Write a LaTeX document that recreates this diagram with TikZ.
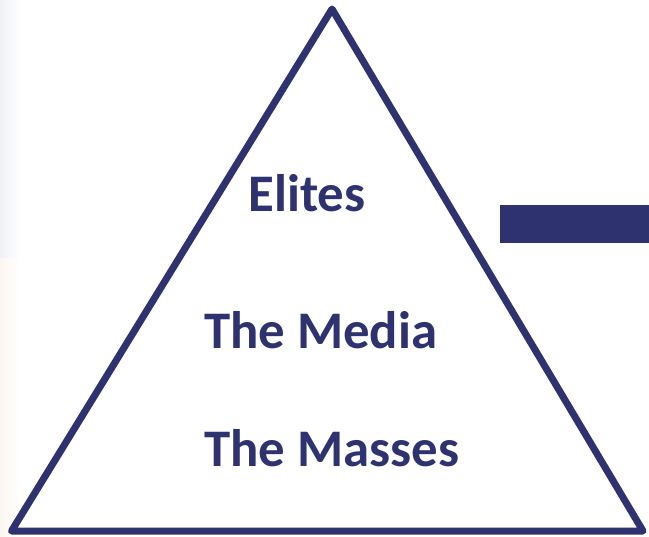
\documentclass[tikz,border=0pt]{standalone}
\usepackage{fontspec}
\setmainfont{Carlito}
\definecolor{navy}{RGB}{46,51,112}
\definecolor{edgeblue}{RGB}{238,241,245}
\definecolor{edgepeach}{RGB}{252,246,240}
\begin{document}
\begin{tikzpicture}[x=1bp,y=-1bp,
  outline/.style={draw=navy,line width=7bp,line join=round},
  label/.style={text=navy,font=\bfseries\fontsize{53}{60}\selectfont,inner sep=0pt}]
  \useasboundingbox (0,0) rectangle (649,537);
  \fill[white] (0,0) rectangle (649,537);
  % faint tint along the left margin
  \shade[left color=edgeblue,right color=white] (0,0) rectangle (20,258);
  \shade[left color=edgepeach,right color=white] (0,258) rectangle (20,537);
  % pyramid
  \coordinate (apex) at (332,9);
  \coordinate (bl) at (11.5,531);
  \coordinate (br) at (643,531);
  \draw[outline] (apex) -- (bl) -- (br) -- cycle;
  % bar on the right
  \fill[navy] (500,205) rectangle (649,243);
  % levels
  \node[label,anchor=base] (elites) at (307,212) {Elites};
  \node[label,anchor=base west] (media) at (204,348) {The Media};
  \node[label,anchor=base west] (masses) at (204,466) {The Masses};
\end{tikzpicture}
\end{document}
